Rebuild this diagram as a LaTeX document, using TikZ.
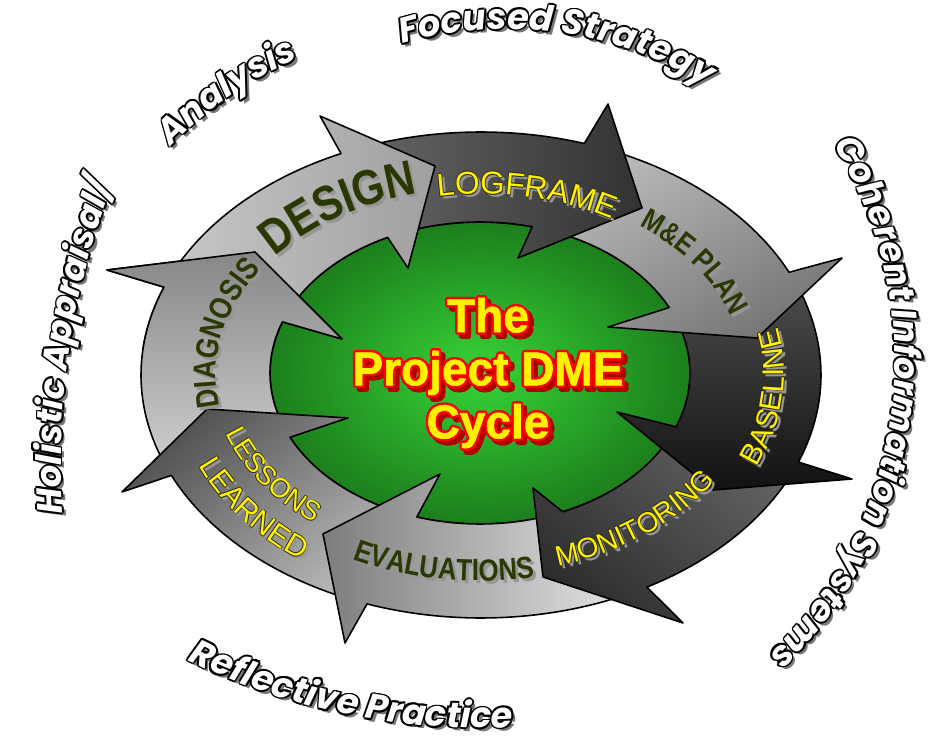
\documentclass[tikz,border=0pt]{standalone}
\usepackage{fontspec}
\setmainfont{Liberation Sans}
\newfontfamily\outerfont{Poppins}
\newfontfamily\darkfont{Liberation Sans}[FakeStretch=0.84]
\newfontfamily\lblfont{Liberation Sans}
\newfontfamily\titlefam{Liberation Sans}[FakeStretch=0.97,FakeBold=1.2]
\usetikzlibrary{decorations.text}

\definecolor{darkolive}{RGB}{42,56,4}
\definecolor{lblshadow}{RGB}{150,150,150}
\definecolor{outshadow}{RGB}{120,120,120}
\definecolor{titleshadow}{RGB}{175,0,0}
\definecolor{lbloutline}{RGB}{40,40,20}
\definecolor{g1a}{RGB}{200,200,200}\definecolor{g1b}{RGB}{160,160,160}
\definecolor{g2a}{RGB}{105,105,105}\definecolor{g2b}{RGB}{50,50,50}
\definecolor{g3a}{RGB}{190,190,190}\definecolor{g3b}{RGB}{118,118,118}
\definecolor{g4a}{RGB}{80,80,80}\definecolor{g4b}{RGB}{18,18,18}
\definecolor{g5a}{RGB}{100,100,100}\definecolor{g5b}{RGB}{45,45,45}
\definecolor{g6a}{RGB}{125,125,125}\definecolor{g6b}{RGB}{235,235,235}
\definecolor{g7a}{RGB}{80,80,80}\definecolor{g7b}{RGB}{190,190,190}
\definecolor{g8a}{RGB}{135,135,135}\definecolor{g8b}{RGB}{210,210,210}

\pgfdeclareradialshading{greenglow}{\pgfpoint{0bp}{0bp}}{rgb(0bp)=(0.2,0.78,0.2); rgb(4bp)=(0.2,0.78,0.2); rgb(20bp)=(0.13,0.56,0.13); rgb(36bp)=(0.07,0.36,0.07); rgb(50bp)=(0.03,0.2,0.03)}

% arrow: #1 tail outer angle, #2 tail inner angle, #3 base outer angle, #4 base inner angle, #5 outer barb, #6 tip, #7 inner barb
\newcommand\arrowpath[7]{({480+210*cos(#2)},{373+151*sin(#2)}) -- ({481+340*cos(#1)},{375+243*sin(#1)}) -- plot[domain=0:1,samples=40] ({481+340*cos(#1+(#3-#1)*\x)},{375+243*sin(#1+(#3-#1)*\x)}) -- #5 -- #6 -- #7 -- ({480+210*cos(#4)},{373+151*sin(#4)}) -- plot[domain=0:1,samples=40] ({480+210*cos(#4+(#2-#4)*\x)},{373+151*sin(#4+(#2-#4)*\x)}) -- cycle}

\newcommand\setcurve[6]{\def\curvepath{plot[domain=-1:1,samples=41] ({#1+(#3)*cos(#5+(#6)*\x)},{#2+(#4)*sin(#5+(#6)*\x)})}}
\newcommand\cpass[4]{\path[shift={(#1,#2)},decorate,decoration={text along path,text align=center,text color=#3,text={#4}}] \curvepath;}
\newcommand\outerlabel[1]{%
  \cpass{3.5}{3.5}{outshadow}{#1}%
  \foreach \oa in {0,45,...,315}{\cpass{{1.8*cos(\oa)}}{{1.8*sin(\oa)}}{black}{#1}}%
  \cpass{0}{0}{white}{#1}}
\newcommand\yellowlabel[1]{%
  \cpass{3}{3}{lblshadow}{#1}%
  \foreach \oa in {0,90,180,270}{\cpass{{0.75*cos(\oa)}}{{0.75*sin(\oa)}}{lbloutline}{#1}}%
  \cpass{0}{0}{yellow}{#1}}
\newcommand\darklabel[1]{\cpass{3}{3}{lblshadow}{#1}\cpass{0}{0}{darkolive}{#1}}

\newcommand\OF{\outerfont\bfseries\itshape\fontsize{20}{24}\selectfont}
\newcommand\DFdesign{\darkfont\bfseries\fontsize{28}{30}\selectfont}
\newcommand\DFdiag{\darkfont\bfseries\fontsize{18}{21}\selectfont}
\newcommand\DFme{\darkfont\bfseries\fontsize{17}{20}\selectfont}
\newcommand\DFeval{\darkfont\bfseries\fontsize{17.5}{20}\selectfont}
\newcommand\YFlog{\lblfont\fontsize{18}{20}\selectfont}
\newcommand\YFbase{\lblfont\fontsize{17}{19}\selectfont}
\newcommand\YFmon{\lblfont\fontsize{16}{18}\selectfont}
\newcommand\YFless{\lblfont\fontsize{15.5}{18}\selectfont}
\newcommand\YFlearn{\lblfont\fontsize{17}{19}\selectfont}

\tikzset{
  arrowline/.style={draw=black,line width=0.9pt,line join=round},
  a1/.style={arrowline,left color=g1a,right color=g1b},
  a2/.style={arrowline,left color=g2a,right color=g2b},
  a3/.style={arrowline,top color=g3a,bottom color=g3b,shading angle=30},
  a4/.style={arrowline,top color=g4a,bottom color=g4b},
  a5/.style={arrowline,top color=g5a,bottom color=g5b,shading angle=-40},
  a6/.style={arrowline,left color=g6a,right color=g6b},
  a7/.style={arrowline,top color=g7a,bottom color=g7b,shading angle=40},
  a8/.style={arrowline,top color=g8a,bottom color=g8b},
  titlestyle/.style={font={\titlefam\bfseries\fontsize{27}{30.2}\selectfont},align=center,inner sep=0pt}
}

\begin{document}
\begin{tikzpicture}[x=0.02cm,y=-0.02cm]
\useasboundingbox (0,0) rectangle (938,740);
\fill[white] (0,0) rectangle (938,740);

% green core
\path[shade,shading=greenglow,draw=black,line width=0.9pt] plot[domain=0:357.5,samples=144,smooth cycle] ({480+210*cos(\x)},{373+151*sin(\x)});

% arrows (reverse order so each head lies over the next tail)
\path[a8] \arrowpath{155.6}{154.8}{201.2}{199.8}{(107,270)}{(255,252)}{(342,339)};
\path[a7] \arrowpath{469.6}{467.5}{515.6}{514.8}{(122,492)}{(207,409)}{(348,418)};
\path[a6] \arrowpath{420.8}{426.8}{469.6}{467.5}{(345,643)}{(323,534)}{(440,474)};
\path[a5] \arrowpath{381}{380.9}{420.8}{426.8}{(683,623)}{(543,577)}{(533,488)};
\path[a4] \arrowpath{335}{334.3}{381}{380.9}{(852,479)}{(713,490)}{(617,412)};
\path[a3] \arrowpath{287.7}{284.4}{335}{334.3}{(842,258)}{(757,338)}{(608,327)};
\path[a2] \arrowpath{245.7}{243.9}{287.7}{284.4}{(608,104)}{(642,208)}{(518,258)};
\path[a1] \arrowpath{201.2}{199.8}{245.7}{243.9}{(320,116)}{(435,166)}{(408,268)};
\begin{scope}
  \clip (95,236) rectangle (354,350);
  \path[a8] \arrowpath{155.6}{154.8}{201.2}{199.8}{(107,270)}{(255,252)}{(342,339)};
\end{scope}

% arrow labels
\setcurve{480}{374}{264}{186}{237}{26}\darklabel{|\DFdesign|DESIGN}
\setcurve{480}{374}{258}{180}{281}{28}\yellowlabel{|\YFlog|LOGFRAME}
\setcurve{480}{374}{264}{186}{325.5}{26}\darklabel{|\DFme|M{\&}E PLAN}
\setcurve{480}{374}{304}{226}{6}{-28}\yellowlabel{|\YFbase|BASELINE}
\setcurve{480}{374}{278}{200}{52}{-29}\yellowlabel{|\YFmon|MONITORING}
\setcurve{480}{374}{285}{207}{98}{-28}\darklabel{|\DFeval|EVALUATIONS}
\setcurve{480}{374}{268}{190}{146}{-25}\yellowlabel{|\YFless|LESSONS}
\setcurve{480}{374}{307}{229}{142}{-25}\yellowlabel{|\YFlearn|LEARNED}
\setcurve{480}{374}{264}{186}{191.5}{31}\darklabel{|\DFdiag|DIAGNOSIS}

% outer labels
\setcurve{821}{461}{760}{760}{188.7}{30}\outerlabel{|\OF|Holistic Appraisal/}
\setcurve{460}{430}{405}{405}{235.5}{25}\outerlabel{|\OF|Analysis}
\setcurve{507}{405}{376}{376}{278}{40}\outerlabel{|\OF|Focused Strategy}
\setcurve{486}{360}{409}{409}{367.3}{60}\outerlabel{|\OF|Coherent Information Systems}
\setcurve{480}{63}{665}{665}{101.6}{-30}\outerlabel{|\OF|Reflective Practice}

% title
\foreach \ta in {0,30,...,330}{\node[titlestyle,text=titleshadow] at ({492+2.4*cos(\ta)},{377+2.4*sin(\ta)}) {The\\Project DME\\Cycle};}
\foreach \ta in {0,30,...,330}{\node[titlestyle,text=red] at ({488+2.4*cos(\ta)},{373+2.4*sin(\ta)}) {The\\Project DME\\Cycle};}
\node[titlestyle,text=yellow] (title) at (488,373) {The\\Project DME\\Cycle};
\end{tikzpicture}
\end{document}
